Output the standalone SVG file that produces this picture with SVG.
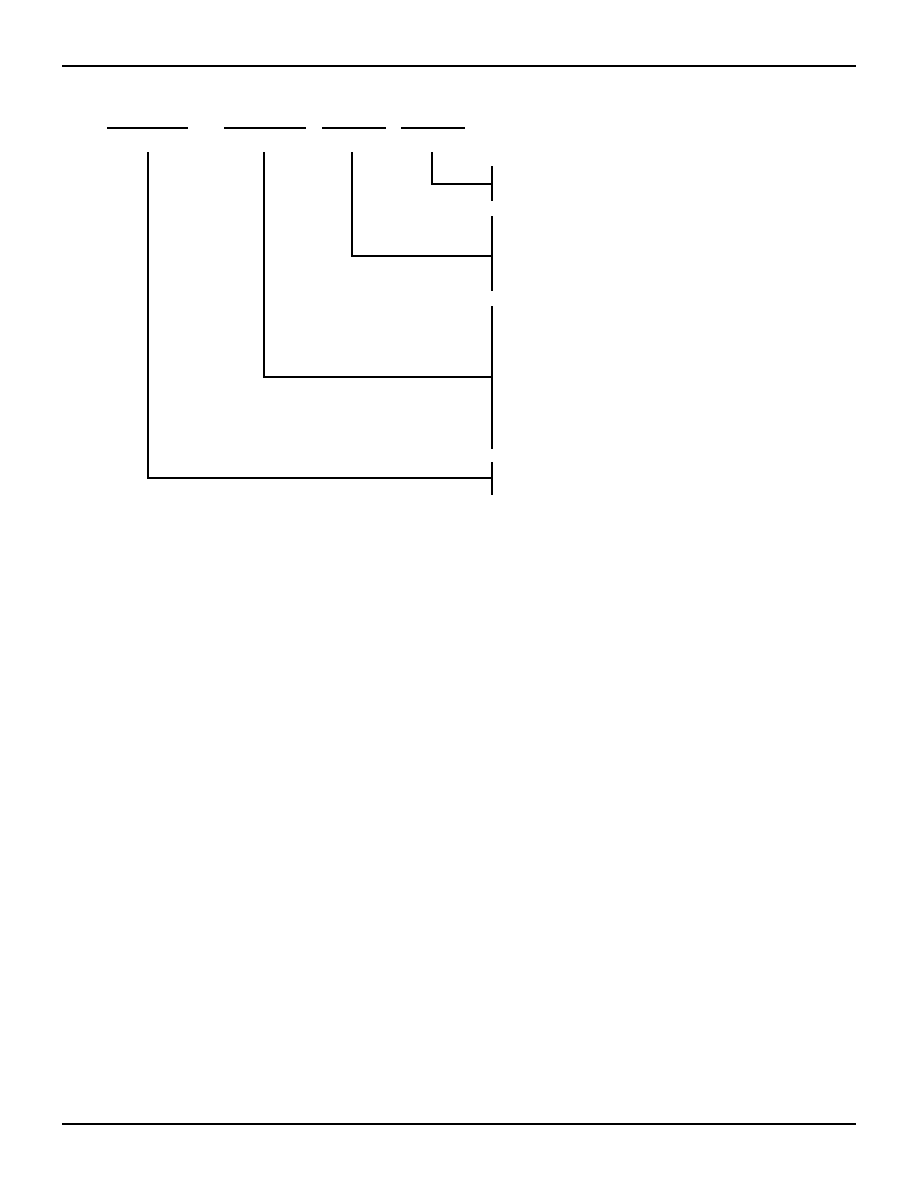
<svg xmlns="http://www.w3.org/2000/svg" width="918" height="1188" viewBox="0 0 918 1188">
<style>
.l{stroke:#000;stroke-width:2;fill:none}
</style>
<rect width="918" height="1188" fill="#fff"/>
<g id="rules">
<line class="l" x1="62" y1="66" x2="856" y2="66"/>
<line class="l" x1="62" y1="1124" x2="856" y2="1124"/>
</g>
<g id="field1"><line class="l" x1="107" y1="128" x2="188" y2="128"/></g>
<g id="field2"><line class="l" x1="224" y1="128" x2="306" y2="128"/></g>
<g id="field3"><line class="l" x1="322" y1="128" x2="386" y2="128"/></g>
<g id="field4"><line class="l" x1="401" y1="128" x2="465" y2="128"/></g>
<g id="bracket4"><line class="l" x1="492" y1="166" x2="492" y2="201"/></g>
<g id="bracket3"><line class="l" x1="492" y1="216" x2="492" y2="291"/></g>
<g id="bracket2"><line class="l" x1="492" y1="306" x2="492" y2="449"/></g>
<g id="bracket1"><line class="l" x1="492" y1="462" x2="492" y2="495"/></g>
<g id="connectors">
<polyline class="l" points="432,152 432,184 492,184"/>
<polyline class="l" points="352,152 352,256 492,256"/>
<polyline class="l" points="264,152 264,377 492,377"/>
<polyline class="l" points="148,152 148,478 492,478"/>
</g>
</svg>
